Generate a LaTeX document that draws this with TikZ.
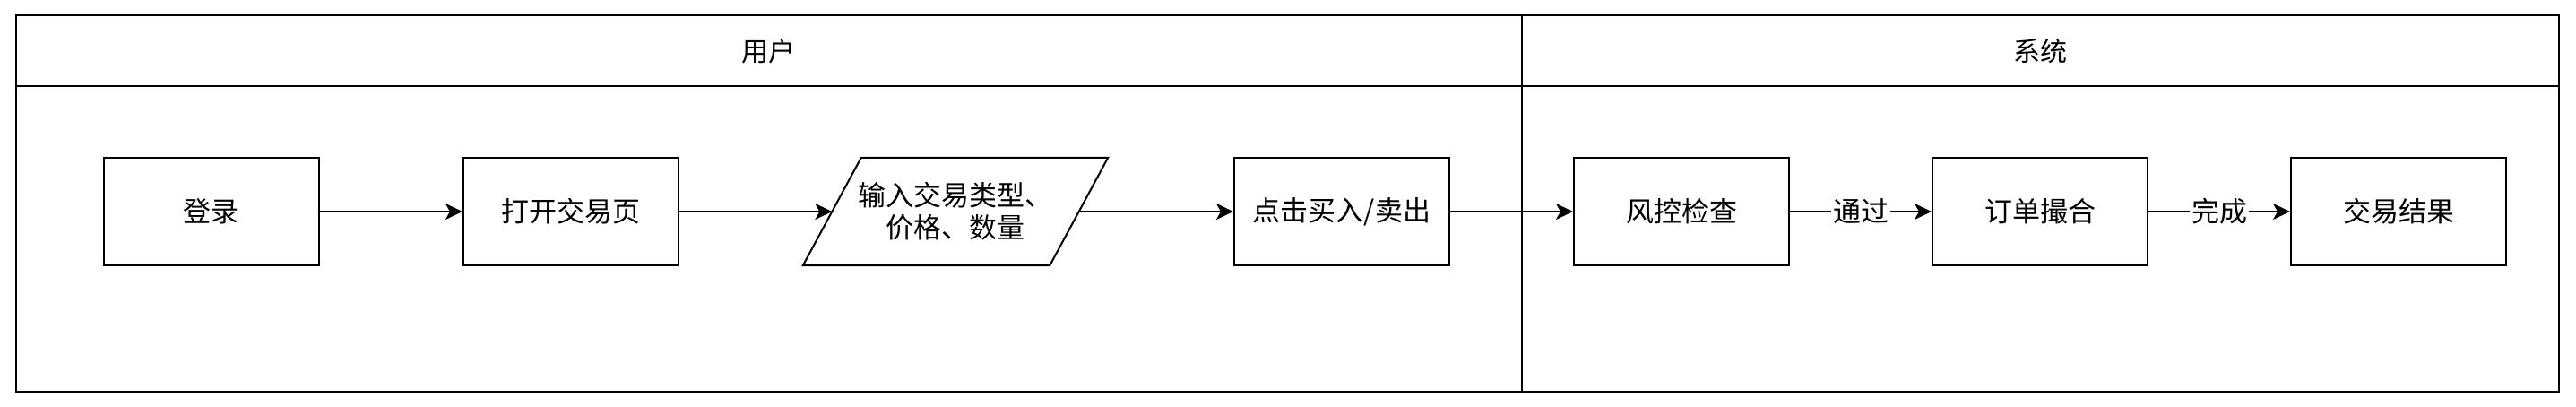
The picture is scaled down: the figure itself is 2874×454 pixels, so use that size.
\documentclass[tikz,border=0pt]{standalone}
\usepackage{fontspec}
\setmainfont{Noto Sans CJK SC}
\usetikzlibrary{arrows.meta,calc}
\begin{document}
\begin{tikzpicture}[x=1pt,y=-1pt,
  lane/.style={draw, line width=2pt, anchor=north west, inner sep=0pt, font=\fontsize{30}{34}\selectfont},
  box/.style={draw, line width=2pt, minimum width=240pt, minimum height=120pt, inner sep=0pt, font=\fontsize{31}{36}\selectfont},
  flow/.style={line width=2pt, -{Stealth[length=19pt,width=18pt,inset=5pt]}},
  lbl/.style={fill=white, inner sep=2pt, font=\fontsize{31}{36}\selectfont}]
\useasboundingbox (0,0) rectangle (2874,454);
% lanes
\node[lane, minimum width=1680.5pt, minimum height=78.5pt] (uh) at (16.5,16.5) {用户};
\node[lane, minimum width=1680.5pt, minimum height=341pt] (ub) at (16.5,95) {};
\node[lane, minimum width=1157pt, minimum height=78.5pt] (sh) at (1697,16.5) {系统};
\node[lane, minimum width=1157pt, minimum height=341pt] (sb) at (1697,95) {};
% nodes
\node[box] (login) at (235.5,236) {登录};
\node[box] (open) at (637,236) {打开交易页};
\node[minimum width=275pt, minimum height=120pt, inner sep=0pt, align=center,
      font=\fontsize{31}{36}\selectfont] (inp) at (1066,236) {输入交易类型、\\价格、数量};
\draw[line width=2pt, line join=miter]
  ($(inp.north west)+(32.5,0)$) -- ($(inp.north east)+(32.5,0)$) --
  ($(inp.south east)-(32.5,0)$) -- ($(inp.south west)-(32.5,0)$) -- cycle;
\node[box] (click) at (1497,236) {点击买入/卖出};
\node[box] (risk) at (1876,236) {风控检查};
\node[box] (match) at (2276,236) {订单撮合};
\node[box] (result) at (2676,236) {交易结果};
% edges
\draw[flow] (login) -- (open);
\draw[flow] (open) -- (inp.west);
\draw[flow] (inp.east) -- (click);
\draw[flow] (click) -- (risk);
\draw[flow] (risk) -- node[lbl] {通过} (match);
\draw[flow] (match) -- node[lbl] {完成} (result);
\end{tikzpicture}
\end{document}
